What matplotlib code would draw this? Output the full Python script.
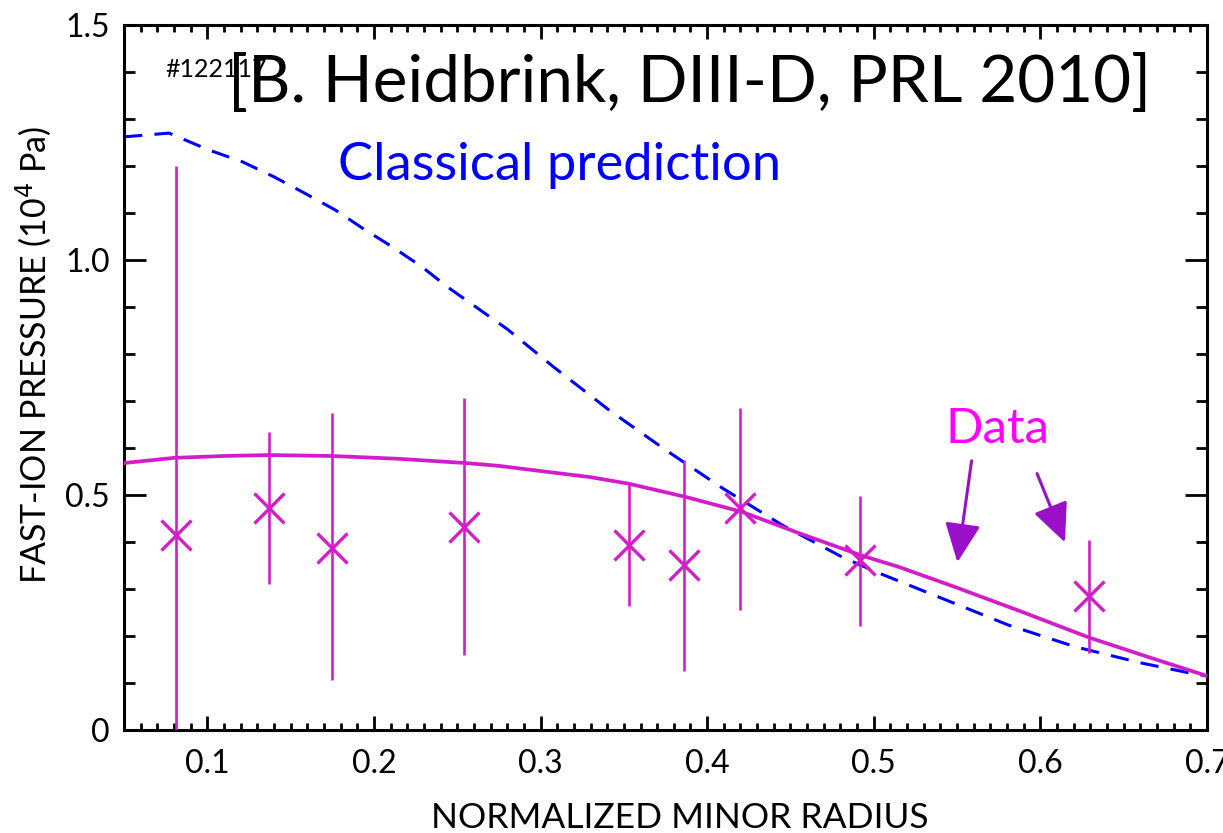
import matplotlib
matplotlib.use("Agg")
import matplotlib.pyplot as plt
from matplotlib.ticker import MultipleLocator, FixedLocator, FixedFormatter

# ---- data ----
data_x = [0.081, 0.137, 0.175, 0.254, 0.353, 0.386, 0.420, 0.492, 0.629]
data_y = [0.415, 0.472, 0.387, 0.432, 0.394, 0.351, 0.472, 0.362, 0.285]
err_lo = [0.000, 0.310, 0.106, 0.160, 0.264, 0.126, 0.255, 0.221, 0.164]
err_hi = [1.200, 0.634, 0.674, 0.706, 0.528, 0.574, 0.685, 0.498, 0.404]

fit_x = [0.050, 0.080, 0.110, 0.137, 0.175, 0.215, 0.255, 0.275, 0.300, 0.330,
         0.353, 0.387, 0.421, 0.455, 0.492, 0.515, 0.549, 0.590, 0.629, 0.665,
         0.700]
fit_y = [0.568, 0.579, 0.583, 0.585, 0.583, 0.577, 0.568, 0.562, 0.551, 0.538,
         0.524, 0.496, 0.464, 0.419, 0.372, 0.347, 0.304, 0.250, 0.197, 0.155,
         0.115]

cls_x = [0.050, 0.077, 0.101, 0.121, 0.140, 0.158, 0.177, 0.193, 0.211, 0.229,
         0.244, 0.262, 0.280, 0.308, 0.341, 0.375, 0.409, 0.445, 0.481, 0.503,
         0.541, 0.581, 0.621, 0.660, 0.690, 0.700]
cls_y = [1.262, 1.270, 1.234, 1.209, 1.177, 1.143, 1.106, 1.068, 1.028, 0.985,
         0.943, 0.898, 0.853, 0.772, 0.681, 0.596, 0.515, 0.436, 0.368, 0.334,
         0.280, 0.223, 0.177, 0.143, 0.121, 0.115]

yticks = [0.0, 0.5, 1.0, 1.5]
ytick_labels = ["0", "0.5", "1.0", "1.5"]
xticks = [0.1, 0.2, 0.3, 0.4, 0.5, 0.6, 0.7]
xtick_labels = ["0.1", "0.2", "0.3", "0.4", "0.5", "0.6", "0.7"]

MAG = "#d21ec8"
FONT = ["Lato", "DejaVu Sans"]
plt.rcParams["font.family"] = FONT

W, H = 1223, 833
fig = plt.figure(figsize=(W / 100, H / 100), dpi=100)
ax = fig.add_axes([124 / W, 1 - 730 / H, (1207 - 124) / W, (730 - 25) / H])

ax.set_xlim(0.05, 0.7)
ax.set_ylim(0, 1.5)

ax.plot(cls_x, cls_y, color="#0000ff", lw=2.2, dashes=(6, 4), zorder=2)
ax.plot(fit_x, fit_y, color=MAG, lw=2.7, zorder=3)
yerr = [[y - lo for y, lo in zip(data_y, err_lo)],
        [hi - y for y, hi in zip(data_y, err_hi)]]
ax.errorbar(data_x, data_y, yerr=yerr, fmt="none", ecolor=MAG, elinewidth=1.9,
            capsize=0, zorder=4)
ax.plot(data_x, data_y, linestyle="none", marker="x", markersize=22,
        markeredgewidth=2.4, color=MAG, zorder=5)

# ticks
ax.xaxis.set_major_locator(FixedLocator(xticks))
ax.xaxis.set_major_formatter(FixedFormatter(xtick_labels))
ax.xaxis.set_minor_locator(MultipleLocator(0.01))
ax.yaxis.set_major_locator(FixedLocator(yticks))
ax.yaxis.set_major_formatter(FixedFormatter(ytick_labels))
ax.yaxis.set_minor_locator(MultipleLocator(0.1))
ax.tick_params(axis="both", which="both", direction="in", top=True, right=True,
               width=2.0, colors="black", labelsize=23)
ax.tick_params(axis="x", which="major", length=10, pad=14)
ax.tick_params(axis="x", which="minor", length=5)
ax.tick_params(axis="y", which="major", length=16, pad=10)
ax.tick_params(axis="y", which="minor", length=8)
for s in ax.spines.values():
    s.set_linewidth(2.2)

ax.set_xlabel("NORMALIZED MINOR RADIUS", fontsize=25.5, labelpad=16)
ax.set_ylabel("FAST-ION PRESSURE (10$^4$ Pa)", fontsize=24.5, labelpad=8)
ax.xaxis.label.set_x(0.513)
ax.yaxis.label.set_y(0.532)

# annotations
fig.text(165 / W, 1 - 77 / H, "#122117", fontsize=18, color="black")
fig.text(228 / W, 1 - 102 / H, "[B. Heidbrink, DIII-D, PRL 2010]", fontsize=47.2,
         color="black")
fig.text(338 / W, 1 - 180 / H, "Classical prediction", fontsize=37.8, color="#0000ff")
fig.text(946 / W, 1 - 443 / H, "Data", fontsize=35.5, color="#ff00ff")

ARROW = "#9a10c8"
for (x0, y0), (x1, y1) in [((972, 458), (957, 565)), ((1036, 471), (1066, 545))]:
    fig.add_artist(matplotlib.patches.FancyArrowPatch(
        (x0 / W, 1 - y0 / H), (x1 / W, 1 - y1 / H), transform=fig.transFigure,
        arrowstyle="-|>,head_length=24,head_width=11", mutation_scale=1,
        color=ARROW, lw=2.2))

fig.savefig("out.png", dpi=100)
